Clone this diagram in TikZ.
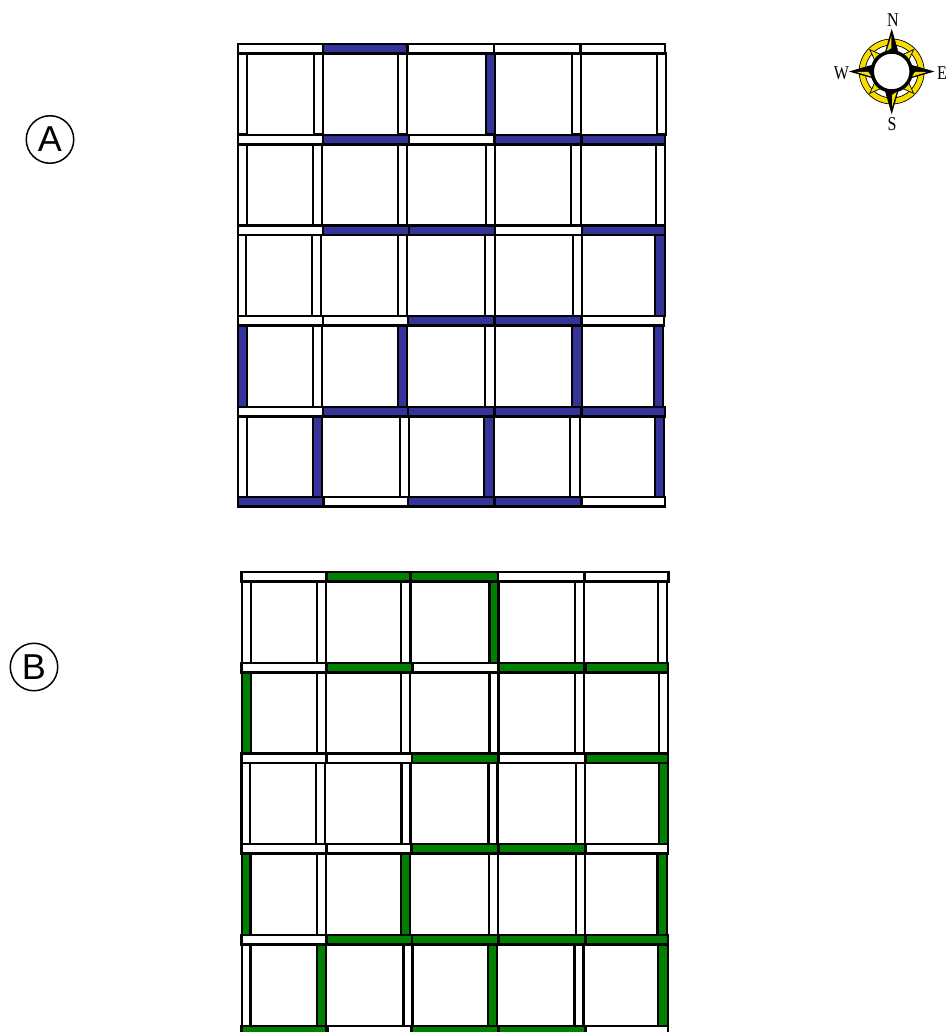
\documentclass[tikz,border=0pt]{standalone}
\usepackage{fontspec}
\setmainfont{Liberation Serif}
\newfontfamily\lsans{Liberation Sans}
\definecolor{gblue}{HTML}{333399}
\definecolor{ggreen}{HTML}{008000}
\definecolor{gold}{HTML}{F7DC00}
\tikzset{
  wall/.style={draw=black,line width=2.1pt,fill=#1},
  lab/.style={circle,draw=black,line width=1.5pt,minimum size=47.5pt,inner sep=0pt,font=\lsans\fontsize{36}{36}\selectfont},
  dir/.style={inner sep=0pt,xscale=0.82,font=\fontsize{19.5}{19.5}\selectfont},
  pt/.style={draw=black,line width=0.7pt,fill=#1}
}
% \hb{x1}{x2}{ytop}{colour}  \vb{x1}{x2}{y1}{y2}{colour}
\newcommand{\hb}[4]{\path[wall=#4] (#1,#3) rectangle (#2,#3+9.5);}
\newcommand{\vb}[5]{\path[wall=#5] (#1,#3) rectangle (#2,#4);}
\begin{document}
\begin{tikzpicture}[x=1pt,y=-1pt]
\useasboundingbox (0,0) rectangle (949,1032);
% ---------- Grid A
\begin{scope}
% row 1
\vb{238}{247}{53}{134.5}{white}\vb{314}{323}{53}{134.5}{white}\vb{398}{407}{53}{134.5}{white}\vb{486}{495}{53}{134.5}{gblue}\vb{572}{581}{53}{134.5}{white}\vb{657}{666}{53}{134.5}{white}
% row 2
\vb{238}{247}{144}{225}{white}\vb{313}{322}{144}{225}{white}\vb{398}{407}{144}{225}{white}\vb{486}{495}{144}{225}{white}\vb{571}{581}{144}{225}{white}\vb{656}{665}{144}{225}{white}
% row 3
\vb{238}{246}{235}{316}{white}\vb{312}{321}{235}{316}{white}\vb{398}{407}{235}{316}{white}\vb{485}{495}{235}{316}{white}\vb{573}{582}{235}{316}{white}\vb{655}{665}{235}{316}{gblue}
% row 4
\vb{238}{247}{326}{407}{gblue}\vb{313}{322}{326}{407}{white}\vb{398}{407}{326}{407}{gblue}\vb{485}{495}{326}{407}{white}\vb{572}{582}{326}{407}{gblue}\vb{654}{663}{326}{407}{gblue}
% row 5
\vb{238}{247}{416}{497}{white}\vb{313}{322}{416}{497}{gblue}\vb{400}{409}{416}{497}{white}\vb{484}{494}{416}{497}{gblue}\vb{570}{580}{416}{497}{white}\vb{655}{664}{416}{497}{gblue}
% horizontals
\hb{238}{323}{44}{white}\hb{323}{407}{44}{gblue}\hb{407.5}{494}{44}{white}\hb{494}{580}{44}{white}\hb{581}{665}{44}{white}
\hb{238}{323}{135}{white}\hb{323}{409}{135}{gblue}\hb{409}{494}{135}{white}\hb{495}{581}{135}{gblue}\hb{582}{665}{135}{gblue}
\hb{238}{323}{225.5}{white}\hb{323}{409}{225.5}{gblue}\hb{409}{495}{225.5}{gblue}\hb{495}{582}{225.5}{white}\hb{582}{665}{225.5}{gblue}
\hb{238}{323}{316}{white}\hb{323}{408}{316}{white}\hb{408}{494}{316}{gblue}\hb{495}{581}{316}{gblue}\hb{582}{664}{316}{white}
\hb{238}{323}{407}{white}\hb{323}{408}{407}{gblue}\hb{408}{494}{407}{gblue}\hb{495}{581}{407}{gblue}\hb{582}{665}{407}{gblue}
\hb{238}{323}{497}{gblue}\hb{324}{408}{497}{white}\hb{408}{494}{497}{gblue}\hb{495}{581}{497}{gblue}\hb{582}{665}{497}{white}
\end{scope}
% ---------- Grid B
\begin{scope}
% row 1
\vb{242}{251}{581.5}{663}{white}\vb{317}{326}{581.5}{663}{white}\vb{401}{410.5}{581.5}{663}{white}\vb{489.5}{498.5}{581.5}{663}{ggreen}\vb{575}{584}{581.5}{663}{white}\vb{658}{667}{581.5}{663}{white}
% row 2
\vb{242}{251}{672}{753}{ggreen}\vb{317}{326}{672}{753}{white}\vb{401}{410}{672}{753}{white}\vb{489.5}{498.5}{672}{753}{white}\vb{575}{584}{672}{753}{white}\vb{659}{668}{672}{753}{white}
% row 3
\vb{241.5}{250}{763}{844}{white}\vb{316}{325}{763}{844}{white}\vb{401.5}{410.5}{763}{844}{white}\vb{488.5}{497.5}{763}{844}{white}\vb{576}{585}{763}{844}{white}\vb{659}{668}{763}{844}{ggreen}
% row 4
\vb{242}{250.5}{853.5}{935}{ggreen}\vb{317}{326}{853.5}{935}{white}\vb{401}{410}{853.5}{935}{ggreen}\vb{489}{498}{853.5}{935}{white}\vb{576}{585}{853.5}{935}{white}\vb{657.5}{667}{853.5}{935}{ggreen}
% row 5
\vb{242}{250.5}{945}{1026}{white}\vb{317}{326}{945}{1026}{ggreen}\vb{403.5}{412.5}{945}{1026}{white}\vb{488}{497}{945}{1026}{ggreen}\vb{574.5}{583.5}{945}{1026}{white}\vb{658}{668}{945}{1026}{ggreen}
% horizontals
\hb{241.5}{326.5}{572}{white}\hb{326.5}{410.5}{572}{ggreen}\hb{410.5}{498}{572}{ggreen}\hb{498}{584}{572}{white}\hb{585}{668.5}{572}{white}
\hb{241.5}{326.5}{663}{white}\hb{326.5}{412.5}{663}{ggreen}\hb{412.5}{498}{663}{white}\hb{498.5}{584.5}{663}{ggreen}\hb{585.5}{668}{663}{ggreen}
\hb{241.5}{326.5}{753.5}{white}\hb{327}{412}{753.5}{white}\hb{412}{498}{753.5}{ggreen}\hb{498.5}{585}{753.5}{white}\hb{585.5}{668}{753.5}{ggreen}
\hb{241.5}{326.5}{844}{white}\hb{327}{411.5}{844}{white}\hb{412}{498}{844}{ggreen}\hb{498.5}{585}{844}{ggreen}\hb{585.5}{668}{844}{white}
\hb{241.5}{326.5}{935}{white}\hb{326.5}{412}{935}{ggreen}\hb{412}{498}{935}{ggreen}\hb{498.5}{585}{935}{ggreen}\hb{585.5}{668}{935}{ggreen}
\hb{241.5}{326.5}{1026}{ggreen}\hb{327.5}{411.5}{1026}{white}\hb{412}{498}{1026}{ggreen}\hb{498.5}{585}{1026}{ggreen}\hb{585.5}{668}{1026}{white}
\end{scope}
% ---------- Labels
\node[lab] (labA) at (50,139.5) {A};
\node[lab] (labB) at (34,667) {B};
% ---------- Compass
\begin{scope}[shift={(891.7,71.5)}]
\fill[gold,draw=black,line width=0.7pt,even odd rule] (0,0) circle (32.5) (0,0) circle (26.5);
\foreach \a in {45,135,225,315}{
  \begin{scope}[rotate=\a]
    \path[pt=gold] (31,0) -- (15,-6) -- (15,6) -- cycle;
  \end{scope}
}
% each point: black silhouette, then its gold flank on top (y axis points down)
\path[pt=black] (0,-41.5) -- (7,-17) -- (-7,-17) -- cycle;
\path[fill=gold] (-0.3,-36) -- (-5.2,-20) -- (-0.3,-23.5) -- cycle;
\path[pt=black] (0,41.5) -- (7,17) -- (-7,17) -- cycle;
\path[fill=gold] (0.3,36) -- (5.2,20) -- (0.3,23.5) -- cycle;
\path[pt=black] (41.5,0) -- (17,-7) -- (17,7) -- cycle;
\path[fill=gold] (36,0.3) -- (20,5.2) -- (23.5,0.3) -- cycle;
\path[pt=black] (-41.5,0) -- (-17,-7) -- (-17,7) -- cycle;
\path[fill=gold] (-36,0.3) -- (-20,5.2) -- (-23.5,0.3) -- cycle;
\draw[black,line width=3.5pt,fill=white] (0,0) circle (19.5);
\end{scope}
\node[dir] (dirN) at (893,20) {N};
\node[dir] (dirS) at (892,124) {S};
\node[dir] (dirW) at (841.5,73) {W};
\node[dir] (dirE) at (942,73) {E};
\end{tikzpicture}
\end{document}
